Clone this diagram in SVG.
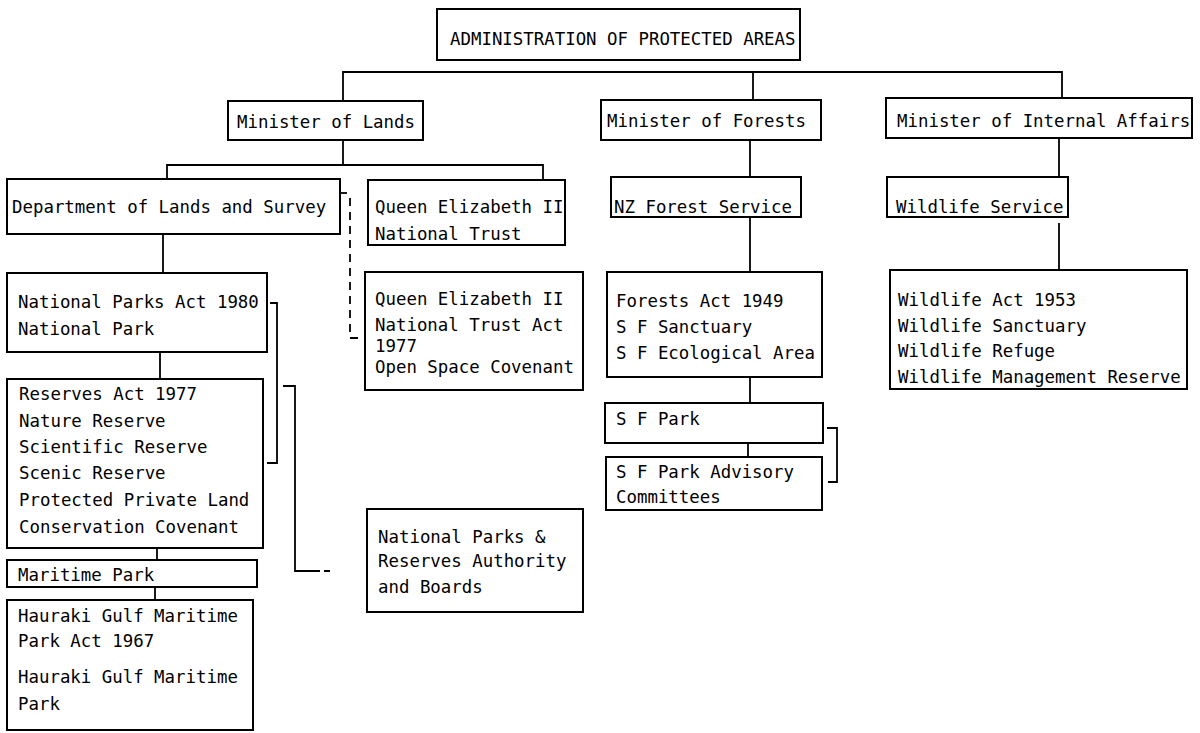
<svg xmlns="http://www.w3.org/2000/svg" width="1200" height="733" viewBox="0 0 1200 733">
<style>
.box{fill:#fff;stroke:#000;stroke-width:2}
.t{font-family:"DejaVu Sans Mono","Liberation Mono",monospace;font-size:17.4px;fill:#000}
.c{fill:none;stroke:#000;stroke-width:1.8}
.d{stroke-dasharray:8 6}
</style>
<rect width="1200" height="733" fill="#fff"/>
<g id="connectors">
<path class="c" d="M343,101 V72 H1062 V98"/>
<path class="c" d="M753,72 V100"/>
<path class="c" d="M343,140 V165"/>
<path class="c" d="M167,179 V165 H543 V180"/>
<path class="c" d="M163,234 V273"/>
<path class="c" d="M160,352 V379"/>
<path class="c" d="M157,548 V560"/>
<path class="c" d="M155,587 V600"/>
<path class="c" d="M270,303 H277 V463 H267"/>
<path class="c" d="M283,386 H295 V571 H320 M324,571 H330"/>
<path class="c" d="M341,193 H347"/>
<path class="c d" d="M350,198 V338 H365"/>
<path class="c" d="M750,140 V177"/>
<path class="c" d="M750,217 V272"/>
<path class="c" d="M750,377 V403"/>
<path class="c" d="M748,443 V457"/>
<path class="c" d="M827,428 H837 V482 H828"/>
<path class="c" d="M1059,138 V177"/>
<path class="c" d="M1059,223 V270"/>
</g>
<g id="admin">
<rect class="box" x="437" y="9" width="363" height="51"/>
<text class="t" x="450" y="45" font-size="17">ADMINISTRATION OF PROTECTED AREAS</text>
</g>
<g id="min-lands">
<rect class="box" x="228" y="101" width="195" height="39"/>
<text class="t" x="237" y="128">Minister of Lands</text>
</g>
<g id="min-forests">
<rect class="box" x="601" y="100" width="220" height="40"/>
<text class="t" x="607" y="127">Minister of Forests</text>
</g>
<g id="min-internal">
<rect class="box" x="886" y="98" width="306" height="40"/>
<text class="t" x="897" y="127">Minister of Internal Affairs</text>
</g>
<g id="dept-lands">
<rect class="box" x="7" y="179" width="333" height="55"/>
<text class="t" x="12" y="213">Department of Lands and Survey</text>
</g>
<g id="qe-trust">
<rect class="box" x="368" y="180" width="197" height="65"/>
<text class="t" x="375" y="213">Queen Elizabeth II</text>
<text class="t" x="375" y="240">National Trust</text>
</g>
<g id="qe-act">
<rect class="box" x="365" y="272" width="218" height="118"/>
<text class="t" x="375" y="305">Queen Elizabeth II</text>
<text class="t" x="375" y="331">National Trust Act</text>
<text class="t" x="375" y="352">1977</text>
<text class="t" x="375" y="373">Open Space Covenant</text>
</g>
<g id="np-authority">
<rect class="box" x="367" y="509" width="216" height="103"/>
<text class="t" x="378" y="543">National Parks &amp;</text>
<text class="t" x="378" y="567">Reserves Authority</text>
<text class="t" x="378" y="593">and Boards</text>
</g>
<g id="np-act">
<rect class="box" x="7" y="273" width="260" height="79"/>
<text class="t" x="18" y="308">National Parks Act 1980</text>
<text class="t" x="18" y="335">National Park</text>
</g>
<g id="reserves-act">
<rect class="box" x="7" y="379" width="256" height="169"/>
<text class="t" x="19" y="400">Reserves Act 1977</text>
<text class="t" x="19" y="427">Nature Reserve</text>
<text class="t" x="19" y="453">Scientific Reserve</text>
<text class="t" x="19" y="479">Scenic Reserve</text>
<text class="t" x="19" y="506">Protected Private Land</text>
<text class="t" x="19" y="533">Conservation Covenant</text>
</g>
<g id="maritime-park">
<rect class="box" x="7" y="560" width="250" height="27"/>
<text class="t" x="18" y="581">Maritime Park</text>
</g>
<g id="hauraki">
<rect class="box" x="7" y="600" width="246" height="130"/>
<text class="t" x="18" y="622">Hauraki Gulf Maritime</text>
<text class="t" x="18" y="647">Park Act 1967</text>
<text class="t" x="18" y="683">Hauraki Gulf Maritime</text>
<text class="t" x="18" y="710">Park</text>
</g>
<g id="nz-forest-service">
<rect class="box" x="611" y="177" width="190" height="40"/>
<text class="t" x="614" y="213">NZ Forest Service</text>
</g>
<g id="forests-act">
<rect class="box" x="607" y="272" width="215" height="105"/>
<text class="t" x="616" y="307">Forests Act 1949</text>
<text class="t" x="616" y="333">S F Sanctuary</text>
<text class="t" x="616" y="359">S F Ecological Area</text>
</g>
<g id="sf-park">
<rect class="box" x="605" y="403" width="218" height="40"/>
<text class="t" x="616" y="425">S F Park</text>
</g>
<g id="sf-park-advisory">
<rect class="box" x="606" y="457" width="216" height="53"/>
<text class="t" x="616" y="478">S F Park Advisory</text>
<text class="t" x="616" y="503">Committees</text>
</g>
<g id="wildlife-service">
<rect class="box" x="887" y="177" width="181" height="40"/>
<text class="t" x="896" y="213">Wildlife Service</text>
</g>
<g id="wildlife-act">
<rect class="box" x="890" y="270" width="297" height="119"/>
<text class="t" x="898" y="306">Wildlife Act 1953</text>
<text class="t" x="898" y="332">Wildlife Sanctuary</text>
<text class="t" x="898" y="357">Wildlife Refuge</text>
<text class="t" x="898" y="383">Wildlife Management Reserve</text>
</g>
</svg>
